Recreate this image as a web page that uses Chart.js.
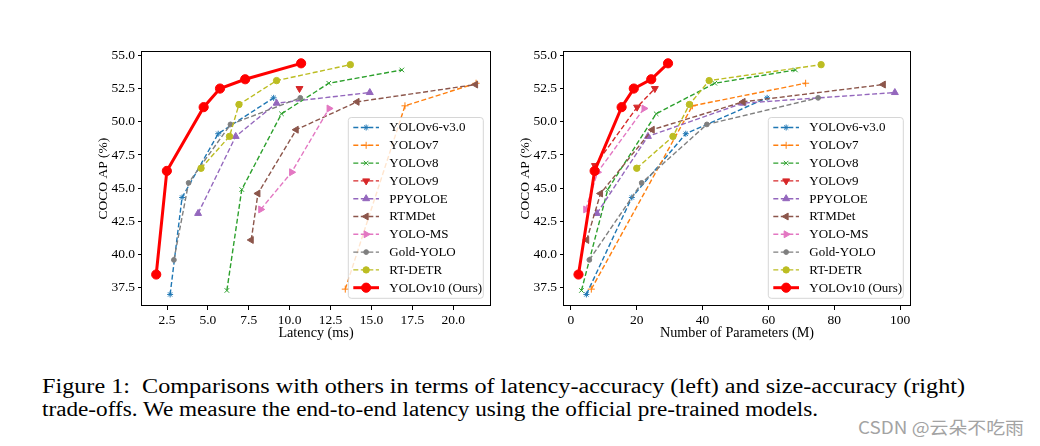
<!DOCTYPE html>
<html><head><meta charset="utf-8">
<script src="https://cdn.jsdelivr.net/npm/chart.js@4.4.1/dist/chart.umd.min.js"></script>
<style>
html,body{margin:0;padding:0;background:#fff;}
#wrap{position:relative;width:1040px;height:446px;overflow:hidden;background:#fff;}
canvas{position:absolute;top:40px;}
#c1{left:60px;}
#c2{left:482px;}
.cap{position:absolute;left:42px;font-family:"Liberation Serif","Times New Roman",serif;font-size:20.5px;color:#000;white-space:nowrap;line-height:22px;transform-origin:0 50%;}
#wm{position:absolute;left:858px;top:417px;font-family:"Noto Sans CJK SC","Noto Sans",sans-serif;font-size:17px;color:#a3a3a3;white-space:nowrap;line-height:20px;transform-origin:0 50%;}
</style></head>
<body><div id="wrap">
<canvas id="c1" width="440" height="306"></canvas>
<canvas id="c2" width="438" height="306"></canvas>
<div class="cap" id="cap1" style="top:375px" data-w="923">Figure 1:&nbsp; Comparisons with others in terms of latency-accuracy (left) and size-accuracy (right)</div>
<div class="cap" id="cap2" style="top:398px" data-w="776">trade-offs. We measure the end-to-end latency using the official pre-trained models.</div>
<div id="wm" data-w="166">CSDN @云朵不吃雨</div>
</div>
<script>
// ---------- data ----------
const seriesNames = ['YOLOv6-v3.0','YOLOv7','YOLOv8','YOLOv9','PPYOLOE','RTMDet','YOLO-MS','Gold-YOLO','RT-DETR','YOLOv10 (Ours)'];

const yolov6Latency = [2.69, 3.42, 5.63, 9.02];
const yolov6Params  = [4.7, 18.5, 34.9, 59.6];
const yolov6AP      = [37.0, 44.3, 49.1, 51.8];

const yolov7Latency = [13.4, 17.05, 21.4];
const yolov7Params  = [6.2, 36.9, 71.3];
const yolov7AP      = [37.4, 51.2, 52.9];

const yolov8Latency = [6.16, 7.07, 9.50, 12.39, 16.86];
const yolov8Params  = [3.2, 11.2, 25.9, 43.7, 68.2];
const yolov8AP      = [37.3, 44.9, 50.6, 52.9, 53.9];

const yolov9Latency   = [10.6];
const yolov9LatencyAP = [52.5];
const yolov9Params    = [7.3, 20.1, 25.5];
const yolov9ParamsAP  = [46.7, 51.1, 52.5];

const ppyoloeLatency = [4.4, 6.7, 9.2, 14.9];
const ppyoloeParams  = [7.9, 23.4, 52.2, 98.4];
const ppyoloeAP      = [43.1, 48.9, 51.4, 52.2];

const rtmdetLatency = [7.65, 8.06, 10.4, 14.12, 21.37];
const rtmdetParams  = [4.8, 9.0, 24.7, 52.3, 94.9];
const rtmdetAP      = [41.1, 44.6, 49.4, 51.5, 52.8];

const yoloMsLatency = [8.23, 10.12, 12.41];
const yoloMsParams  = [4.5, 8.1, 22.2];
const yoloMsAP      = [43.4, 46.2, 51.0];

const goldYoloLatency = [2.92, 3.82, 6.38, 10.65];
const goldYoloParams  = [5.6, 21.5, 41.3, 75.1];
const goldYoloAP      = [39.6, 45.4, 49.8, 51.8];

const rtDetrLatency = [4.58, 6.32, 6.90, 9.20, 13.71];
const rtDetrParams  = [20, 31, 36, 42, 76];
const rtDetrAP      = [46.5, 48.9, 51.3, 53.1, 54.3];

const yolov10Latency = [1.84, 2.49, 4.74, 5.74, 7.28, 10.70];
const yolov10Params  = [2.3, 7.2, 15.4, 19.1, 24.4, 29.5];
const yolov10AP      = [38.5, 46.3, 51.1, 52.5, 53.2, 54.4];

const latencyTicks = [2.5, 5.0, 7.5, 10.0, 12.5, 15.0, 17.5, 20.0];
const paramTicks   = [0, 20, 40, 60, 80, 100];
const apTicks      = [37.5, 40.0, 42.5, 45.0, 47.5, 50.0, 52.5, 55.0];

// ---------- styles ----------
const styles = [
  {color:'#1f77b4', ps:'star',     r:3,   rot:0},
  {color:'#ff7f0e', ps:'cross',    r:3.5, rot:0},
  {color:'#2ca02c', ps:'crossRot', r:3.2, rot:0},
  {color:'#d62728', ps:'triangle', r:4,   rot:180},
  {color:'#9467bd', ps:'triangle', r:4,   rot:0},
  {color:'#8c564b', ps:'triangle', r:4,   rot:-90},
  {color:'#e377c2', ps:'triangle', r:4,   rot:90},
  {color:'#7f7f7f', ps:'circle',   r:2.4, rot:0},
  {color:'#bcbd22', ps:'circle',   r:3.2, rot:0},
  {color:'#ff0000', ps:'circle',   r:4.6, rot:0, solid:true}
];

function pts(xs, ys){ return xs.map((x,i)=>({x:x, y:ys[i]})); }

const latencySeries = [
  pts(yolov6Latency, yolov6AP), pts(yolov7Latency, yolov7AP), pts(yolov8Latency, yolov8AP),
  pts(yolov9Latency, yolov9LatencyAP), pts(ppyoloeLatency, ppyoloeAP), pts(rtmdetLatency, rtmdetAP),
  pts(yoloMsLatency, yoloMsAP), pts(goldYoloLatency, goldYoloAP), pts(rtDetrLatency, rtDetrAP),
  pts(yolov10Latency, yolov10AP)
];
const paramSeries = [
  pts(yolov6Params, yolov6AP), pts(yolov7Params, yolov7AP), pts(yolov8Params, yolov8AP),
  pts(yolov9Params, yolov9ParamsAP), pts(ppyoloeParams, ppyoloeAP), pts(rtmdetParams, rtmdetAP),
  pts(yoloMsParams, yoloMsAP), pts(goldYoloParams, goldYoloAP), pts(rtDetrParams, rtDetrAP),
  pts(yolov10Params, yolov10AP)
];

function makeDatasets(series){
  const n = series.length;
  return series.map((data,i)=>{
    const s = styles[i];
    return {
      label: seriesNames[i], data: data,
      borderColor: s.color, backgroundColor: s.color,
      borderWidth: s.solid ? 3 : 1.4,
      borderDash: s.solid ? [] : [5, 2.5],
      pointStyle: s.ps, pointRadius: s.r, pointRotation: s.rot,
      pointBackgroundColor: s.color, pointBorderColor: s.color,
      pointBorderWidth: 1, pointHoverRadius: s.r,
      showLine: true, tension: 0, fill: false,
      order: n - i
    };
  });
}

const FONT = '"Liberation Serif", "Times New Roman", serif';

function drawMarker(ctx, s, x, y){
  ctx.save();
  ctx.fillStyle = s.color; ctx.strokeStyle = s.color; ctx.lineWidth = 1; ctx.setLineDash([]);
  if (Chart.helpers && Chart.helpers.drawPoint) {
    Chart.helpers.drawPoint(ctx, {pointStyle:s.ps, radius:s.r, rotation:s.rot, borderWidth:1}, x, y);
  } else {
    ctx.beginPath(); ctx.arc(x,y,s.r,0,Math.PI*2); ctx.fill();
  }
  ctx.restore();
}

const frameLegend = {
  id: 'frameLegend',
  afterDraw(chart){
    const ctx = chart.ctx, a = chart.chartArea;
    ctx.save();
    ctx.strokeStyle = '#000'; ctx.lineWidth = 1; ctx.setLineDash([]);
    ctx.strokeRect(Math.round(a.left)-0.5, Math.round(a.top)+0.5, Math.round(a.right-a.left)+1, Math.round(a.bottom-a.top)-1);
    const ds = chart.data.datasets, n = ds.length;
    const bw = 135, rowH = 17.8;
    const bh = 10 + rowH*(n-1) + 10.6;
    const bx = a.right - 6.7 - bw, by = a.bottom - 7.7 - bh;
    ctx.beginPath();
    if (ctx.roundRect) ctx.roundRect(bx, by, bw, bh, 3); else ctx.rect(bx, by, bw, bh);
    ctx.fillStyle = 'rgba(255,255,255,0.8)'; ctx.fill();
    ctx.strokeStyle = 'rgba(204,204,204,0.8)'; ctx.lineWidth = 1; ctx.stroke();
    ds.forEach((d,i)=>{
      const s = styles[i];
      const y = by + 10 + i*rowH;
      ctx.beginPath();
      ctx.strokeStyle = s.color; ctx.lineWidth = s.solid ? 3 : 1.4;
      ctx.setLineDash(s.solid ? [] : [5, 2.5]);
      ctx.moveTo(bx+5, y); ctx.lineTo(bx+30.7, y); ctx.stroke();
      ctx.setLineDash([]);
      drawMarker(ctx, s, bx+17.85, y);
      ctx.fillStyle = '#000'; ctx.font = '13px ' + FONT; ctx.textBaseline = 'middle'; ctx.textAlign = 'left';
      ctx.fillText(d.label, bx+41, y+0.5);
    });
    ctx.restore();
  }
};

function makeChart(id, series, xTicks, xMin, xMax, xTitle, xFmt){
  return new Chart(document.getElementById(id), {
    type: 'line',
    data: { datasets: makeDatasets(series) },
    plugins: [frameLegend],
    options: {
      responsive: false, animation: false, devicePixelRatio: 1,
      layout: { padding: { top: 11, right: 10, left: 0, bottom: 0 } },
      plugins: { legend: { display: false }, tooltip: { enabled: false } },
      scales: {
        x: {
          type: 'linear', min: xMin, max: xMax,
          afterBuildTicks: sc => { sc.ticks = xTicks.map(v=>({value:v})); },
          afterFit: sc => { sc.height = 40; },
          ticks: { color:'#000', font:{family:FONT, size:13.5}, padding:2, maxRotation:0, autoSkip:false,
                   callback: v => xFmt(v) },
          grid: { display:true, drawOnChartArea:false, drawTicks:true, tickLength:4, tickColor:'#000', tickWidth:1 },
          border: { display:false },
          title: { display:true, text:xTitle, color:'#000', font:{family:FONT, size:14.2}, padding:{top:0, bottom:4} }
        },
        y: {
          type: 'linear', min: 36.13, max: 55.32,
          afterBuildTicks: sc => { sc.ticks = apTicks.map(v=>({value:v})); },
          afterFit: sc => { sc.width = 82; },
          ticks: { color:'#000', font:{family:FONT, size:13.5}, padding:3, autoSkip:false,
                   callback: v => Number(v).toFixed(1) },
          grid: { display:true, drawOnChartArea:false, drawTicks:true, tickLength:4, tickColor:'#000', tickWidth:1 },
          border: { display:false },
          title: { display:true, text:'COCO AP (%)', color:'#000', font:{family:FONT, size:13.5}, padding:{top:35, bottom:0} }
        }
      }
    }
  });
}

makeChart('c1', latencySeries, latencyTicks, 0.97, 22.25, 'Latency (ms)', v => Number(v).toFixed(1));
makeChart('c2', paramSeries, paramTicks, -2.1, 103.0, 'Number of Parameters (M)', v => String(Math.round(v)));

// stretch caption lines / watermark to the widths seen in the reference
['cap1','cap2','wm'].forEach(id=>{
  const el = document.getElementById(id);
  const target = Number(el.dataset.w);
  const w = el.getBoundingClientRect().width;
  if (w > 0) el.style.transform = 'scaleX(' + (target / w) + ')';
});
</script>
</body></html>
